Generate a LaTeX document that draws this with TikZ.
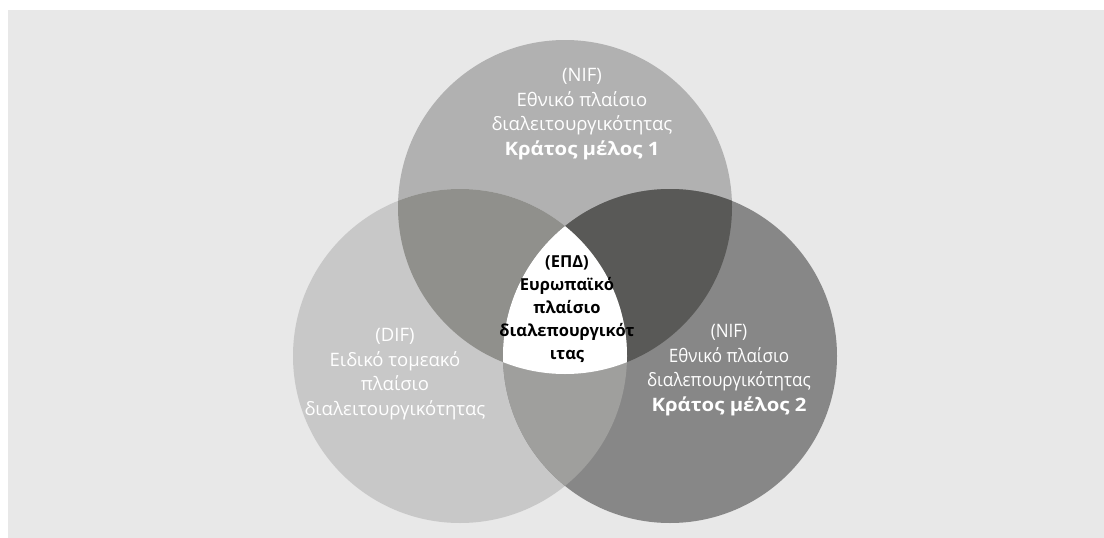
\documentclass[tikz,border=0pt]{standalone}
\usepackage{fontspec}
\setmainfont{Open Sans}
\newfontfamily\narrowfont[FakeStretch=0.92]{Open Sans}
\newfontfamily\widefont[FakeStretch=1.1]{Open Sans}
\usetikzlibrary{positioning}

\definecolor{backgray}{HTML}{E8E8E8}
\definecolor{topgray}{HTML}{B1B1B1}
\definecolor{leftgray}{HTML}{C8C8C8}
\definecolor{rightgray}{HTML}{878787}
\definecolor{topleftgray}{HTML}{90908C}
\definecolor{toprightgray}{HTML}{595957}
\definecolor{leftrightgray}{HTML}{9F9F9D}

\tikzset{
  setlabel/.style={text=white, align=center, inner sep=0pt,
    font=\fontsize{18.5}{24.5}\selectfont},
  corelabel/.style={text=black, align=center, inner sep=0pt,
    font=\fontsize{16.5}{23}\selectfont\bfseries},
}

\begin{document}
\begin{tikzpicture}[x=1pt,y=-1pt]

% background
\useasboundingbox (0,0) rectangle (1104,538);
\fill [backgray] (8,10) rectangle (1104,538);

% centres of the three sets, r = 167
\coordinate (ctop)   at (565,207);
\coordinate (cleft)  at (460,356);
\coordinate (cright) at (670,356);

\fill [topgray]   (ctop)   circle (167pt);
\fill [leftgray]  (cleft)  circle (167pt);
\fill [rightgray] (cright) circle (167pt);

% pairwise overlaps
\begin{scope}
  \clip (ctop) circle (167pt);
  \fill [topleftgray]  (cleft)  circle (167pt);
  \fill [toprightgray] (cright) circle (167pt);
\end{scope}
\begin{scope}
  \clip (cleft) circle (167pt);
  \fill [leftrightgray] (cright) circle (167pt);
\end{scope}

% common part (EPD)
\begin{scope}
  \clip (ctop) circle (167pt);
  \clip (cleft) circle (167pt);
  \fill [white] (cright) circle (167pt);
\end{scope}

% labels
\node [setlabel] (nif1) at (582,114)
  {(NIF)\\Εθνικό πλαίσιο\\διαλειτουργικότητας\\\widefont\bfseries Κράτος μέλος 1};
\node [setlabel] (dif) at (395,374)
  {(DIF)\\Ειδικό τομεακό\\πλαίσιο\\διαλειτουργικότητας};
\node [setlabel] (nif2) at (729,370)
  {\narrowfont(NIF)\\\narrowfont Εθνικό πλαίσιο\\\narrowfont διαλεπουργικότητας\\\widefont\bfseries Κράτος μέλος 2};
\node [corelabel] (epd) at (567,309)
  {(ΕΠΔ)\\Ευρωπαϊκό\\πλαίσιο\\διαλεπουργικότ\\ιτας};

\end{tikzpicture}
\end{document}
